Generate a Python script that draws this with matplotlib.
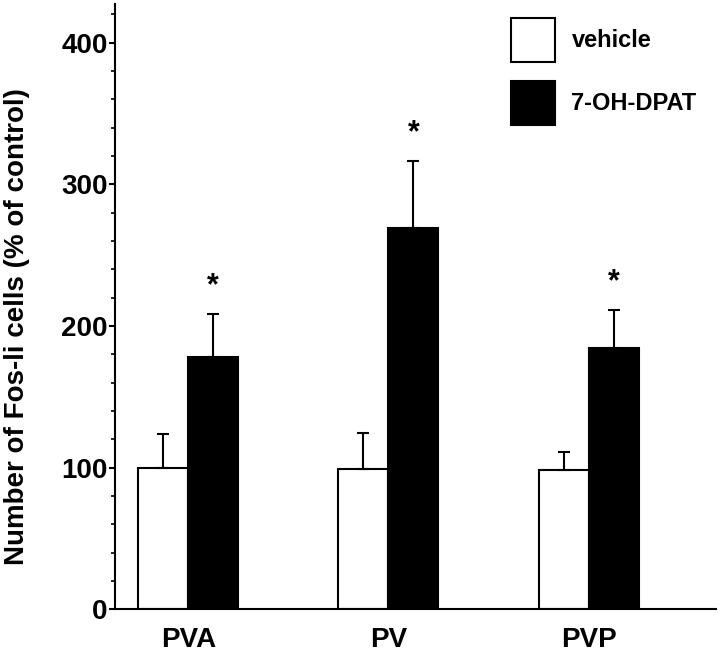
import numpy as np
import matplotlib
matplotlib.use('Agg')
import matplotlib.pyplot as plt
from matplotlib.patches import Patch

plt.rcParams['font.family'] = ['Liberation Sans', 'DejaVu Sans']
plt.rcParams['font.weight'] = 'bold'

# values
regions = ['PVA', 'PV', 'PVP']
vehicle = [100, 99, 98.5]
vehicle_err = [23.5, 25.5, 12.5]
dpat = [178, 269.5, 184.5]
dpat_err = [30.5, 47, 26.5]
sig = [True, True, True]

x = np.arange(len(regions))
w = 0.25

fig = plt.figure(figsize=(7.2, 6.6), dpi=100)
ax = fig.add_axes([0.1597, 0.0768, 0.8347, 0.9164])

ax.bar(x - w / 2, vehicle, w, color='white', edgecolor='black', linewidth=1.5,
       yerr=[np.zeros(3), vehicle_err], capsize=4.5,
       error_kw=dict(elinewidth=1.5, capthick=1.5, ecolor='black'), zorder=2)
ax.bar(x + w / 2, dpat, w, color='black', edgecolor='black', linewidth=1.5,
       yerr=[np.zeros(3), dpat_err], capsize=4.5,
       error_kw=dict(elinewidth=1.5, capthick=1.5, ecolor='black'), zorder=2)

for i in range(len(regions)):
    if sig[i]:
        ax.text(x[i] + w / 2, dpat[i] + dpat_err[i] + 9, '*', ha='center', va='bottom',
                fontsize=22, fontweight='bold')

ax.set_xlim(-0.366, 2.636)
ax.set_ylim(0, 427)
ax.set_yticks([0, 100, 200, 300, 400])
ax.set_yticks(np.arange(0, 428, 20), minor=True)
ax.set_xticks(x)
ax.set_xticklabels(regions, fontsize=20, fontweight='bold')
ax.tick_params(axis='x', length=0, pad=13)
ax.tick_params(axis='y', which='major', length=4.3, width=1.5, labelsize=20, pad=1)
ax.tick_params(axis='y', which='minor', length=3.2, width=1.2)

for s in ['top', 'right']:
    ax.spines[s].set_visible(False)
ax.spines['left'].set_linewidth(1.5)
ax.spines['bottom'].set_linewidth(1.5)

fig.text(17 / 720, 1 - 326.5 / 660, 'Number of Fos-li cells (% of control)', rotation=90,
         ha='center', va='center', fontsize=20, fontweight='bold')

handles = [Patch(facecolor='white', edgecolor='black', linewidth=1.5, label='vehicle'),
           Patch(facecolor='black', edgecolor='black', linewidth=1.5, label='7-OH-DPAT')]
ax.legend(handles=handles, loc='upper left', bbox_to_anchor=(511 / 720, 1 - 18 / 660),
          bbox_transform=fig.transFigure, frameon=False, fontsize=17,
          handlelength=1.86, handleheight=2.49, labelspacing=0.8, handletextpad=0.7,
          borderpad=0, borderaxespad=0)

fig.savefig('out.png', dpi=100)
